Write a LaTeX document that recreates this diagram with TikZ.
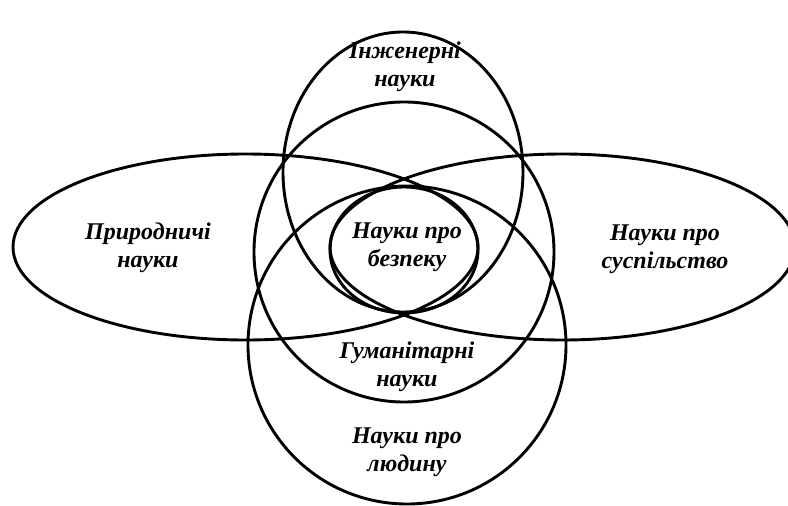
\documentclass[tikz,border=0pt]{standalone}
\usepackage{fontspec}
\setmainfont{Liberation Serif}
\begin{document}
\begin{tikzpicture}[x=1pt,y=-1pt,
  ring/.style={line width=2.9pt},
  lbl/.style={font=\fontsize{24}{28}\selectfont\bfseries\itshape, align=center, inner sep=0pt}]
\useasboundingbox (0,0) rectangle (788,506);
% shapes
\draw[ring] (403,172) ellipse [x radius=120, y radius=140];
\draw[ring] (245.5,247) ellipse [x radius=232.5, y radius=93];
\draw[ring] (562.5,247) ellipse [x radius=232.5, y radius=93];
\draw[ring] (404,252) circle [radius=150];
\draw[ring] (407,345) circle [radius=159];
\draw[ring] (404,250) ellipse [x radius=74, y radius=63];
% labels
\node[lbl] (eng) at (405,67) {Інженерні\\науки};
\node[lbl] (nat) at (148,248) {Природничі\\науки};
\node[lbl] (soc) at (665,249) {Науки про\\суспільство};
\node[lbl] (safe) at (407,247) {Науки про\\безпеку};
\node[lbl] (hum) at (407,367) {Гуманітарні\\науки};
\node[lbl] (man) at (407,452) {Науки про\\людину};
\end{tikzpicture}
\end{document}
